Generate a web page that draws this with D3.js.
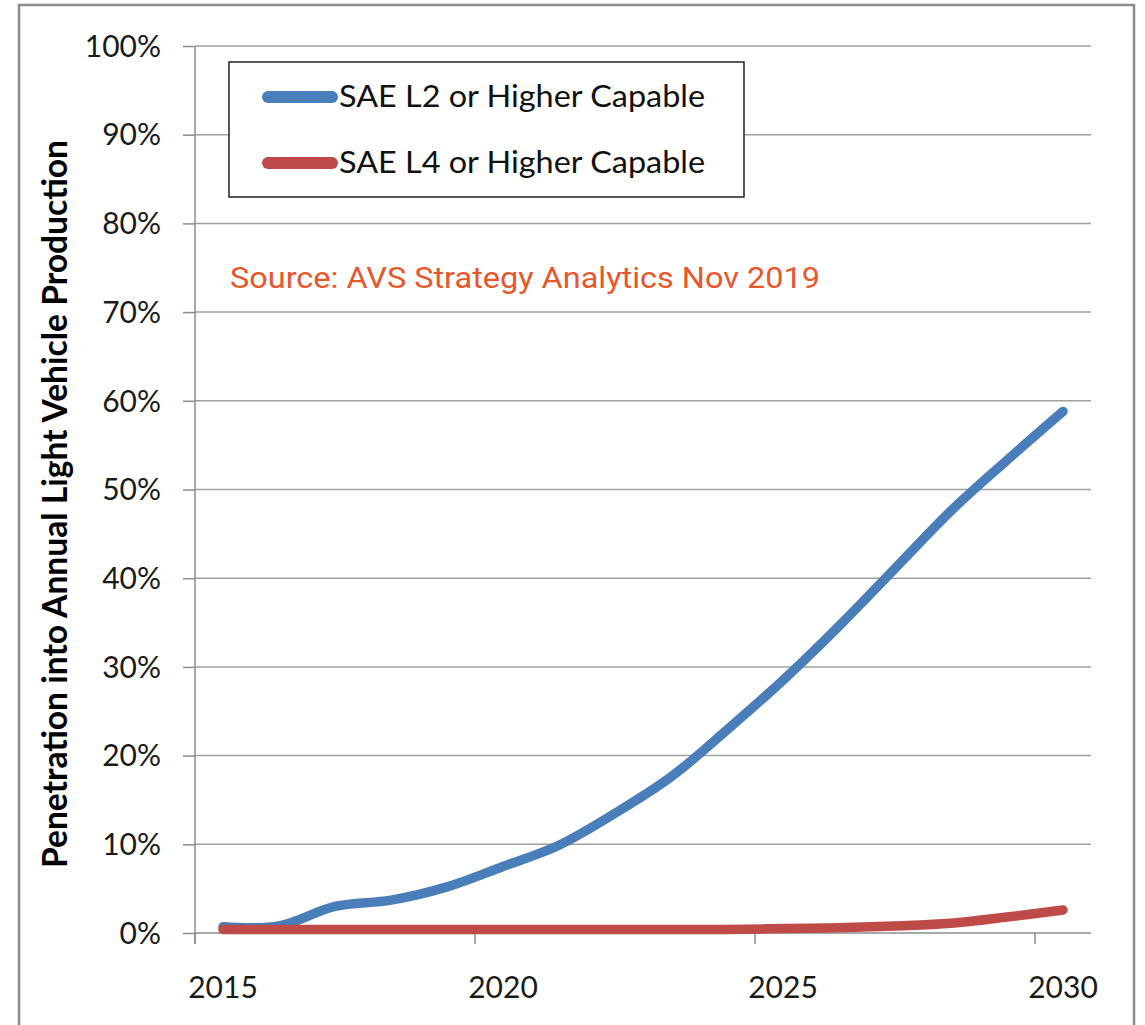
<!DOCTYPE html>
<html>
<head>
<meta charset="utf-8">
<script src="https://cdn.jsdelivr.net/npm/d3@7"></script>
<style>
  html, body { margin: 0; padding: 0; background: #fff; }
  svg { display: block; }
</style>
</head>
<body>
<svg id="chart" width="1145" height="1025"></svg>
<script>
// ---- data ----
const years = [2015,2016,2017,2018,2019,2020,2021,2022,2023,2024,2025,2026,2027,2028,2029,2030];
const l2Values = [0.007,0.008,0.030,0.037,0.052,0.075,0.099,0.135,0.176,0.229,0.285,0.346,0.411,0.476,0.533,0.588];
const l4Values = [0.004,0.004,0.004,0.004,0.004,0.004,0.004,0.004,0.004,0.004,0.005,0.006,0.008,0.011,0.018,0.026];
const seriesNames = ["SAE L2 or Higher Capable", "SAE L4 or Higher Capable"];
const seriesColors = ["#4A7EBB", "#BE4B48"];
const yTicks = [0,0.1,0.2,0.3,0.4,0.5,0.6,0.7,0.8,0.9,1.0];
const xTickLabels = [2015,2020,2025,2030];
const yTitle = "Penetration into Annual Light Vehicle Production";
const sourceText = "Source: AVS Strategy Analytics Nov 2019";

const svg = d3.select("#chart");
const FONT = "Lato, 'Open Sans', sans-serif";

// outer border
svg.append("rect").attr("x",19).attr("y",5).attr("width",1115).attr("height",1040)
  .attr("fill","none").attr("stroke","#8c8c8c").attr("stroke-width",2.5);

const plot = {left:195, right:1091, top:46, bottom:933};
const x = d3.scaleBand().domain(years).range([plot.left, plot.right]).padding(0);
const y = d3.scaleLinear().domain([0,1]).range([plot.bottom, plot.top]);
const cx = d => x(d) + x.bandwidth()/2;

// gridlines
svg.append("g").selectAll("line").data(yTicks.filter(v=>v>0)).join("line")
  .attr("x1",plot.left).attr("x2",plot.right)
  .attr("y1",d=>y(d)).attr("y2",d=>y(d))
  .attr("stroke","#a0a0a0").attr("stroke-width",1.5);

// y axis
const yAxis = svg.append("g").attr("transform",`translate(${plot.left},0)`)
  .call(d3.axisLeft(y).tickValues(yTicks).tickFormat(d3.format(".0%")).tickSize(12).tickPadding(22));
yAxis.select(".domain").attr("stroke","#8c8c8c").attr("stroke-width",1.5)
  .attr("d",`M0,${plot.top}V${plot.bottom+11}`);
yAxis.selectAll(".tick line").attr("stroke","#8c8c8c").attr("stroke-width",1.5);
yAxis.selectAll(".tick text").attr("font-family",FONT).attr("font-size",30).attr("fill","#1a1a1a").attr("dy","0.34em");

// x axis
const xAxis = svg.append("g").attr("transform",`translate(0,${plot.bottom})`)
  .call(d3.axisBottom(x).tickValues(xTickLabels).tickSize(0).tickPadding(44));
xAxis.select(".domain").attr("stroke","#8c8c8c").attr("stroke-width",1.5)
  .attr("d",`M${plot.left},0H${plot.right}`);
xAxis.selectAll(".tick text").attr("font-family",FONT).attr("font-size",30).attr("fill","#1a1a1a");
// tick marks at category boundaries every 5 categories
svg.append("g").selectAll("line").data(xTickLabels).join("line")
  .attr("x1",d=>x(d)).attr("x2",d=>x(d))
  .attr("y1",plot.bottom).attr("y2",plot.bottom+11)
  .attr("stroke","#8c8c8c").attr("stroke-width",1.5);

// y title
svg.append("text")
  .attr("transform",`translate(67,504) rotate(-90)`)
  .attr("text-anchor","middle")
  .attr("font-family",FONT).attr("font-weight","bold").attr("font-size",34).attr("fill","#000")
  .attr("textLength",728).attr("lengthAdjust","spacingAndGlyphs")
  .text(yTitle);

// lines
const line = d3.line().x(d=>cx(d[0])).y(d=>y(d[1])).curve(d3.curveCatmullRom.alpha(0.5));
const seriesData = [l2Values, l4Values];
seriesData.forEach((vals,i)=>{
  svg.append("path").datum(years.map((yr,j)=>[yr,vals[j]]))
    .attr("d",line).attr("fill","none")
    .attr("stroke",seriesColors[i]).attr("stroke-width",9.5)
    .attr("stroke-linecap","round").attr("stroke-linejoin","round");
});

// legend
svg.append("rect").attr("x",229).attr("y",62).attr("width",515).attr("height",135)
  .attr("fill","#fff").attr("stroke","#222").attr("stroke-width",1.5);
seriesNames.forEach((name,i)=>{
  const ly = 97 + i*66;
  svg.append("line").attr("x1",268).attr("x2",332).attr("y1",ly).attr("y2",ly)
    .attr("stroke",seriesColors[i]).attr("stroke-width",12).attr("stroke-linecap","round");
  svg.append("text").attr("x",339).attr("y",ly+10)
    .attr("font-family",FONT).attr("font-size",30).attr("fill","#111")
    .attr("textLength",366).attr("lengthAdjust","spacingAndGlyphs")
    .text(name);
});

// source
svg.append("text").attr("x",230).attr("y",288)
  .attr("font-family","Roboto, sans-serif").attr("font-size",29).attr("fill","#E8562C")
  .attr("textLength",590).attr("lengthAdjust","spacingAndGlyphs")
  .text(sourceText);
</script>
</body>
</html>
